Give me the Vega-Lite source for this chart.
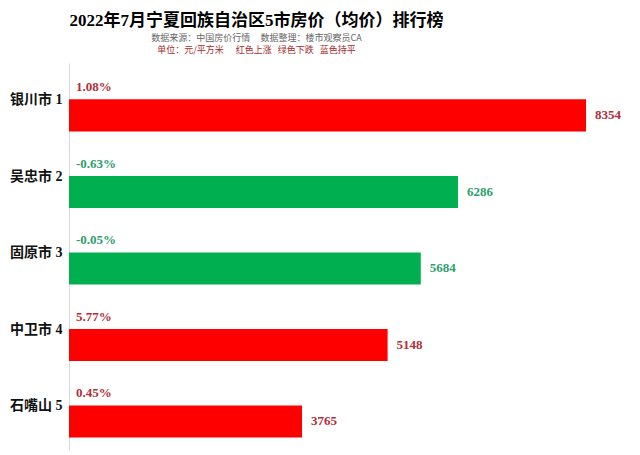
{
  "$schema": "https://vega.github.io/schema/vega-lite/v6.json",
  "width": 557,
  "height": 387,
  "autosize": "none",
  "padding": {"left": 69, "top": 63, "right": 14, "bottom": 5},
  "background": "white",
  "view": {"stroke": null},
  "title": {
    "text": "2022年7月宁夏回族自治区5市房价（均价）排行榜",
    "subtitle": "数据来源：中国房价行情\u00a0\u00a0\u00a0\u00a0\u00a0数据整理：楼市观察员CA",
    "anchor": "middle",
    "frame": "group",
    "dx": -91,
    "offset": 1,
    "font": "Liberation Serif, Noto Sans CJK SC",
    "fontSize": 17,
    "fontWeight": "bold",
    "color": "#000000",
    "subtitleFont": "Noto Sans CJK SC",
    "subtitleFontSize": 9,
    "subtitleColor": "#666666",
    "subtitlePadding": 4
  },
  "data": {
    "values": [
      {"city": "银川市 1", "price": 8354, "change": "1.08%", "trend": "up"},
      {"city": "吴忠市 2", "price": 6286, "change": "-0.63%", "trend": "down"},
      {"city": "固原市 3", "price": 5684, "change": "-0.05%", "trend": "down"},
      {"city": "中卫市 4", "price": 5148, "change": "5.77%", "trend": "up"},
      {"city": "石嘴山 5", "price": 3765, "change": "0.45%", "trend": "up"}
    ]
  },
  "encoding": {
    "y": {
      "field": "city",
      "type": "nominal",
      "sort": null,
      "scale": {"paddingInner": 0.58, "paddingOuter": 0.319, "align": 0.745},
      "axis": {
        "title": null,
        "domain": true,
        "domainColor": "#d9d9d9",
        "ticks": false,
        "grid": false,
        "labelPadding": 7,
        "labelOffset": -15,
        "labelFont": "Liberation Serif, Noto Sans CJK SC",
        "labelFontSize": 14,
        "labelFontWeight": "bold",
        "labelColor": "#111111"
      }
    }
  },
  "layer": [
    {
      "mark": {"type": "bar"},
      "encoding": {
        "x": {
          "field": "price",
          "type": "quantitative",
          "scale": {"domain": [0, 9000]},
          "axis": {
            "orient": "top",
            "labels": false,
            "ticks": false,
            "domain": false,
            "grid": false,
            "title": "单位：元/平方米\u00a0\u00a0\u00a0\u00a0\u00a0\u00a0红色上涨\u00a0\u00a0\u00a0绿色下跌\u00a0\u00a0\u00a0蓝色持平",
            "titleFont": "Noto Sans CJK SC",
            "titleFontSize": 9,
            "titleFontWeight": "normal",
            "titleColor": "#A52A2A",
            "titleX": 187,
            "titleY": -14,
            "titleAlign": "center",
            "titleBaseline": "middle",
            "titleAnchor": "middle"
          }
        },
        "color": {
          "field": "trend",
          "type": "nominal",
          "scale": {"domain": ["up", "down", "flat"], "range": ["#FF0000", "#00B050", "#0070C0"]},
          "legend": null
        }
      }
    },
    {
      "mark": {"type": "text", "align": "left", "baseline": "middle", "dx": 9, "font": "Liberation Serif", "fontSize": 13, "fontWeight": "bold"},
      "encoding": {
        "x": {"field": "price", "type": "quantitative"},
        "text": {"field": "price", "type": "quantitative", "format": "d"},
        "color": {
          "field": "trend",
          "type": "nominal",
          "scale": {"domain": ["up", "down", "flat"], "range": ["#B0303A", "#2E9E6E", "#2E5E9E"]},
          "legend": null
        }
      }
    },
    {
      "mark": {"type": "text", "align": "left", "baseline": "middle", "dx": 7, "dy": -28, "font": "Liberation Serif", "fontSize": 13, "fontWeight": "bold"},
      "encoding": {
        "x": {"datum": 0, "type": "quantitative"},
        "text": {"field": "change", "type": "nominal"},
        "color": {
          "field": "trend",
          "type": "nominal",
          "scale": {"domain": ["up", "down", "flat"], "range": ["#B0303A", "#2E9E6E", "#2E5E9E"]},
          "legend": null
        }
      }
    }
  ],
  "resolve": {"scale": {"color": "independent"}}
}
